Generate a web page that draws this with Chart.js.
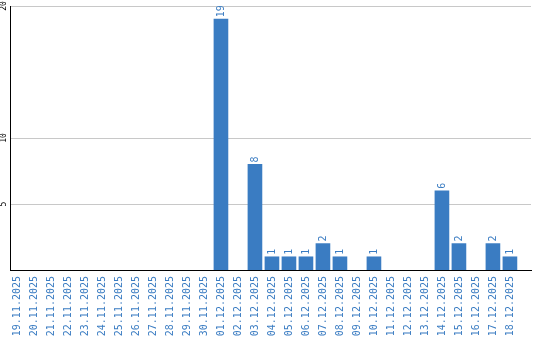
<!DOCTYPE html>
<html>
<head>
<meta charset="utf-8">
<script src="https://cdn.jsdelivr.net/npm/chart.js@4.4.1/dist/chart.umd.min.js"></script>
<style>
  html,body{margin:0;padding:0;background:#fff;}
</style>
</head>
<body>
<canvas id="chart" width="540" height="340"></canvas>
<script>
// daily counts, 19.11.2025 - 18.12.2025
const dates = [
  '19.11.2025','20.11.2025','21.11.2025','22.11.2025','23.11.2025','24.11.2025',
  '25.11.2025','26.11.2025','27.11.2025','28.11.2025','29.11.2025','30.11.2025',
  '01.12.2025','02.12.2025','03.12.2025','04.12.2025','05.12.2025','06.12.2025',
  '07.12.2025','08.12.2025','09.12.2025','10.12.2025','11.12.2025','12.12.2025',
  '13.12.2025','14.12.2025','15.12.2025','16.12.2025','17.12.2025','18.12.2025'
];
const counts = [
  0,0,0,0,0,0,
  0,0,0,0,0,0,
  19,0,8,1,1,1,
  2,1,0,1,0,0,
  0,6,2,0,2,1
];
const yTicks = [5,10,20];

const barColor = '#3a7cc2';
const mono = "'DejaVu Sans Mono', monospace";

// value on top of each bar, rotated like the axis labels
const valueLabels = {
  id:'valueLabels',
  afterDatasetsDraw(chart){
    const c = chart.ctx;
    const meta = chart.getDatasetMeta(0);
    c.save();
    c.font = '10px ' + mono;
    c.fillStyle = barColor;
    c.textAlign = 'left';
    c.textBaseline = 'middle';
    meta.data.forEach((bar,i)=>{
      if(!counts[i]) return;
      c.save();
      c.translate(bar.x, bar.y-2);
      c.rotate(-Math.PI/2);
      c.fillText(String(counts[i]),0,0);
      c.restore();
    });
    c.restore();
  }
};

const ctx = document.getElementById('chart').getContext('2d');
new Chart(ctx,{
  type:'bar',
  data:{
    datasets:[{
      // empty days get no bar at all
      data:counts.map((v,i)=>({x:i,y:v||null})),
      backgroundColor:barColor,
      barThickness:14
    }]
  },
  options:{
    responsive:false,
    animation:false,
    layout:{padding:{top:6,right:9,left:0,bottom:0}},
    plugins:{legend:{display:false}, tooltip:{enabled:false}},
    scales:{
      x:{
        type:'linear', min:-0.41, max:30.24, offset:false,
        afterBuildTicks:s=>{ s.ticks = dates.map((d,i)=>({value:i})); },
        afterFit:s=>{ s.height = 70; },
        grid:{display:false, offset:false, drawTicks:false},
        border:{display:true, color:'#000', width:1},
        ticks:{autoSkip:false, minRotation:90, maxRotation:90, padding:6, color:barColor,
               font:{family:mono, size:10}, callback:v=>dates[v]}
      },
      y:{
        min:0, max:20,
        afterBuildTicks:s=>{ s.ticks = yTicks.map(v=>({value:v})); },
        afterFit:s=>{ s.width = 10; },
        grid:{color:'#c8c8c8', drawTicks:false},
        border:{display:true, color:'#000', width:1},
        ticks:{minRotation:90, maxRotation:90, crossAlign:'center', padding:1, color:'#000',
               font:{family:mono, size:8}}
      }
    }
  },
  plugins:[valueLabels]
});
</script>
</body>
</html>
